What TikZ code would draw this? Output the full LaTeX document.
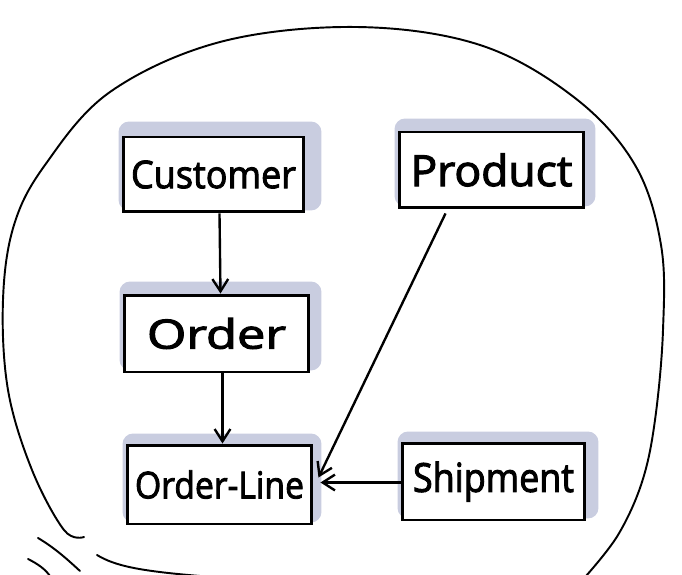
\documentclass[tikz,border=0pt]{standalone}
\usepackage{fontspec}
\setmainfont{Open Sans}
\newfontfamily\sketchfont[FakeBold=2.5]{Open Sans}
\usetikzlibrary{arrows.meta,calc,backgrounds}
\definecolor{shadowblue}{HTML}{C9CDE0}
\tikzset{
  ent/.style={draw=black, line width=1.7pt, fill=white, inner sep=0pt, font=\sketchfont},
  arr/.style={line width=1.35pt, -{Straight Barb[length=7pt,width=9pt,line width=1.35pt]}},
  sk/.style={line width=1.1pt, line cap=round},
  shadowbox/.style={fill=shadowblue, rounded corners=6},
}
\newcommand\fitwh[3]{\resizebox*{#1}{#2}{#3}}
\begin{document}
\begin{tikzpicture}[x=0.02cm,y=-0.02cm]
\useasboundingbox (0,0) rectangle (682,574);
% outer blob
\draw[sk] plot[smooth, tension=0.6] coordinates {
  (84,537) (64,530) (32,470) (8,390) (3,300) (14,225) (45,165) (110,92) (220,42)
  (356,27) (480,45) (575,98) (635,165) (661,245) (663,330) (655,420) (642,482) (618,535) (586,576)};
% bottom-left strokes
\draw[sk] (38,538) .. controls (55,548) and (68,560) .. (80,571);
\draw[sk] (28,559) .. controls (38,564) and (45,569) .. (50,576);
\draw[sk] (97,555) .. controls (115,566) and (140,571) .. (200,576);
% nodes
\node[ent, minimum width=3.62cm, minimum height=1.5cm] (cust) at (213.5,174.5) {\fitwh{3.3cm}{0.56cm}{Customer}};
\node[ent, minimum width=3.7cm, minimum height=1.52cm] (prod) at (491.5,170) {\fitwh{3.24cm}{0.66cm}{Product}};
\node[ent, minimum width=3.7cm, minimum height=1.54cm] (ord) at (216.5,333.5) {\fitwh{2.78cm}{0.62cm}{Order}};
\node[ent, minimum width=3.7cm, minimum height=1.58cm] (ol) at (219.5,484.5) {\fitwh{3.38cm}{0.57cm}{Order-Line}};
\node[ent, minimum width=3.66cm, minimum height=1.54cm] (ship) at (493.5,481.5) {\fitwh{3.22cm}{0.8cm}{Shipment}};
% shadows
\begin{scope}[on background layer]
\foreach \n/\t/\r in {cust/14/16, prod/12/10, ord/12/11, ol/10/8, ship/10/12}{
  \fill[shadowbox] ($(\n.north west)+(-3,-\t)$) rectangle ($(\n.south east)+(\r,-3)$);
}
\end{scope}
% connectors
\draw[arr] ($(cust.south)+(6,0)$) -- ($(ord.north)+(4,0)$);
\draw[arr] ($(ord.south)+(6,0)$) -- ($(ol.north)+(3,0)$);
\draw[arr] ($(prod.south)+(-46,4)$) -- ($(ol.east)+(5,-7)$);
\draw[arr] ($(ship.west)+(0,1)$) -- ($(ol.east)+(7,-2)$);
\end{tikzpicture}
\end{document}
